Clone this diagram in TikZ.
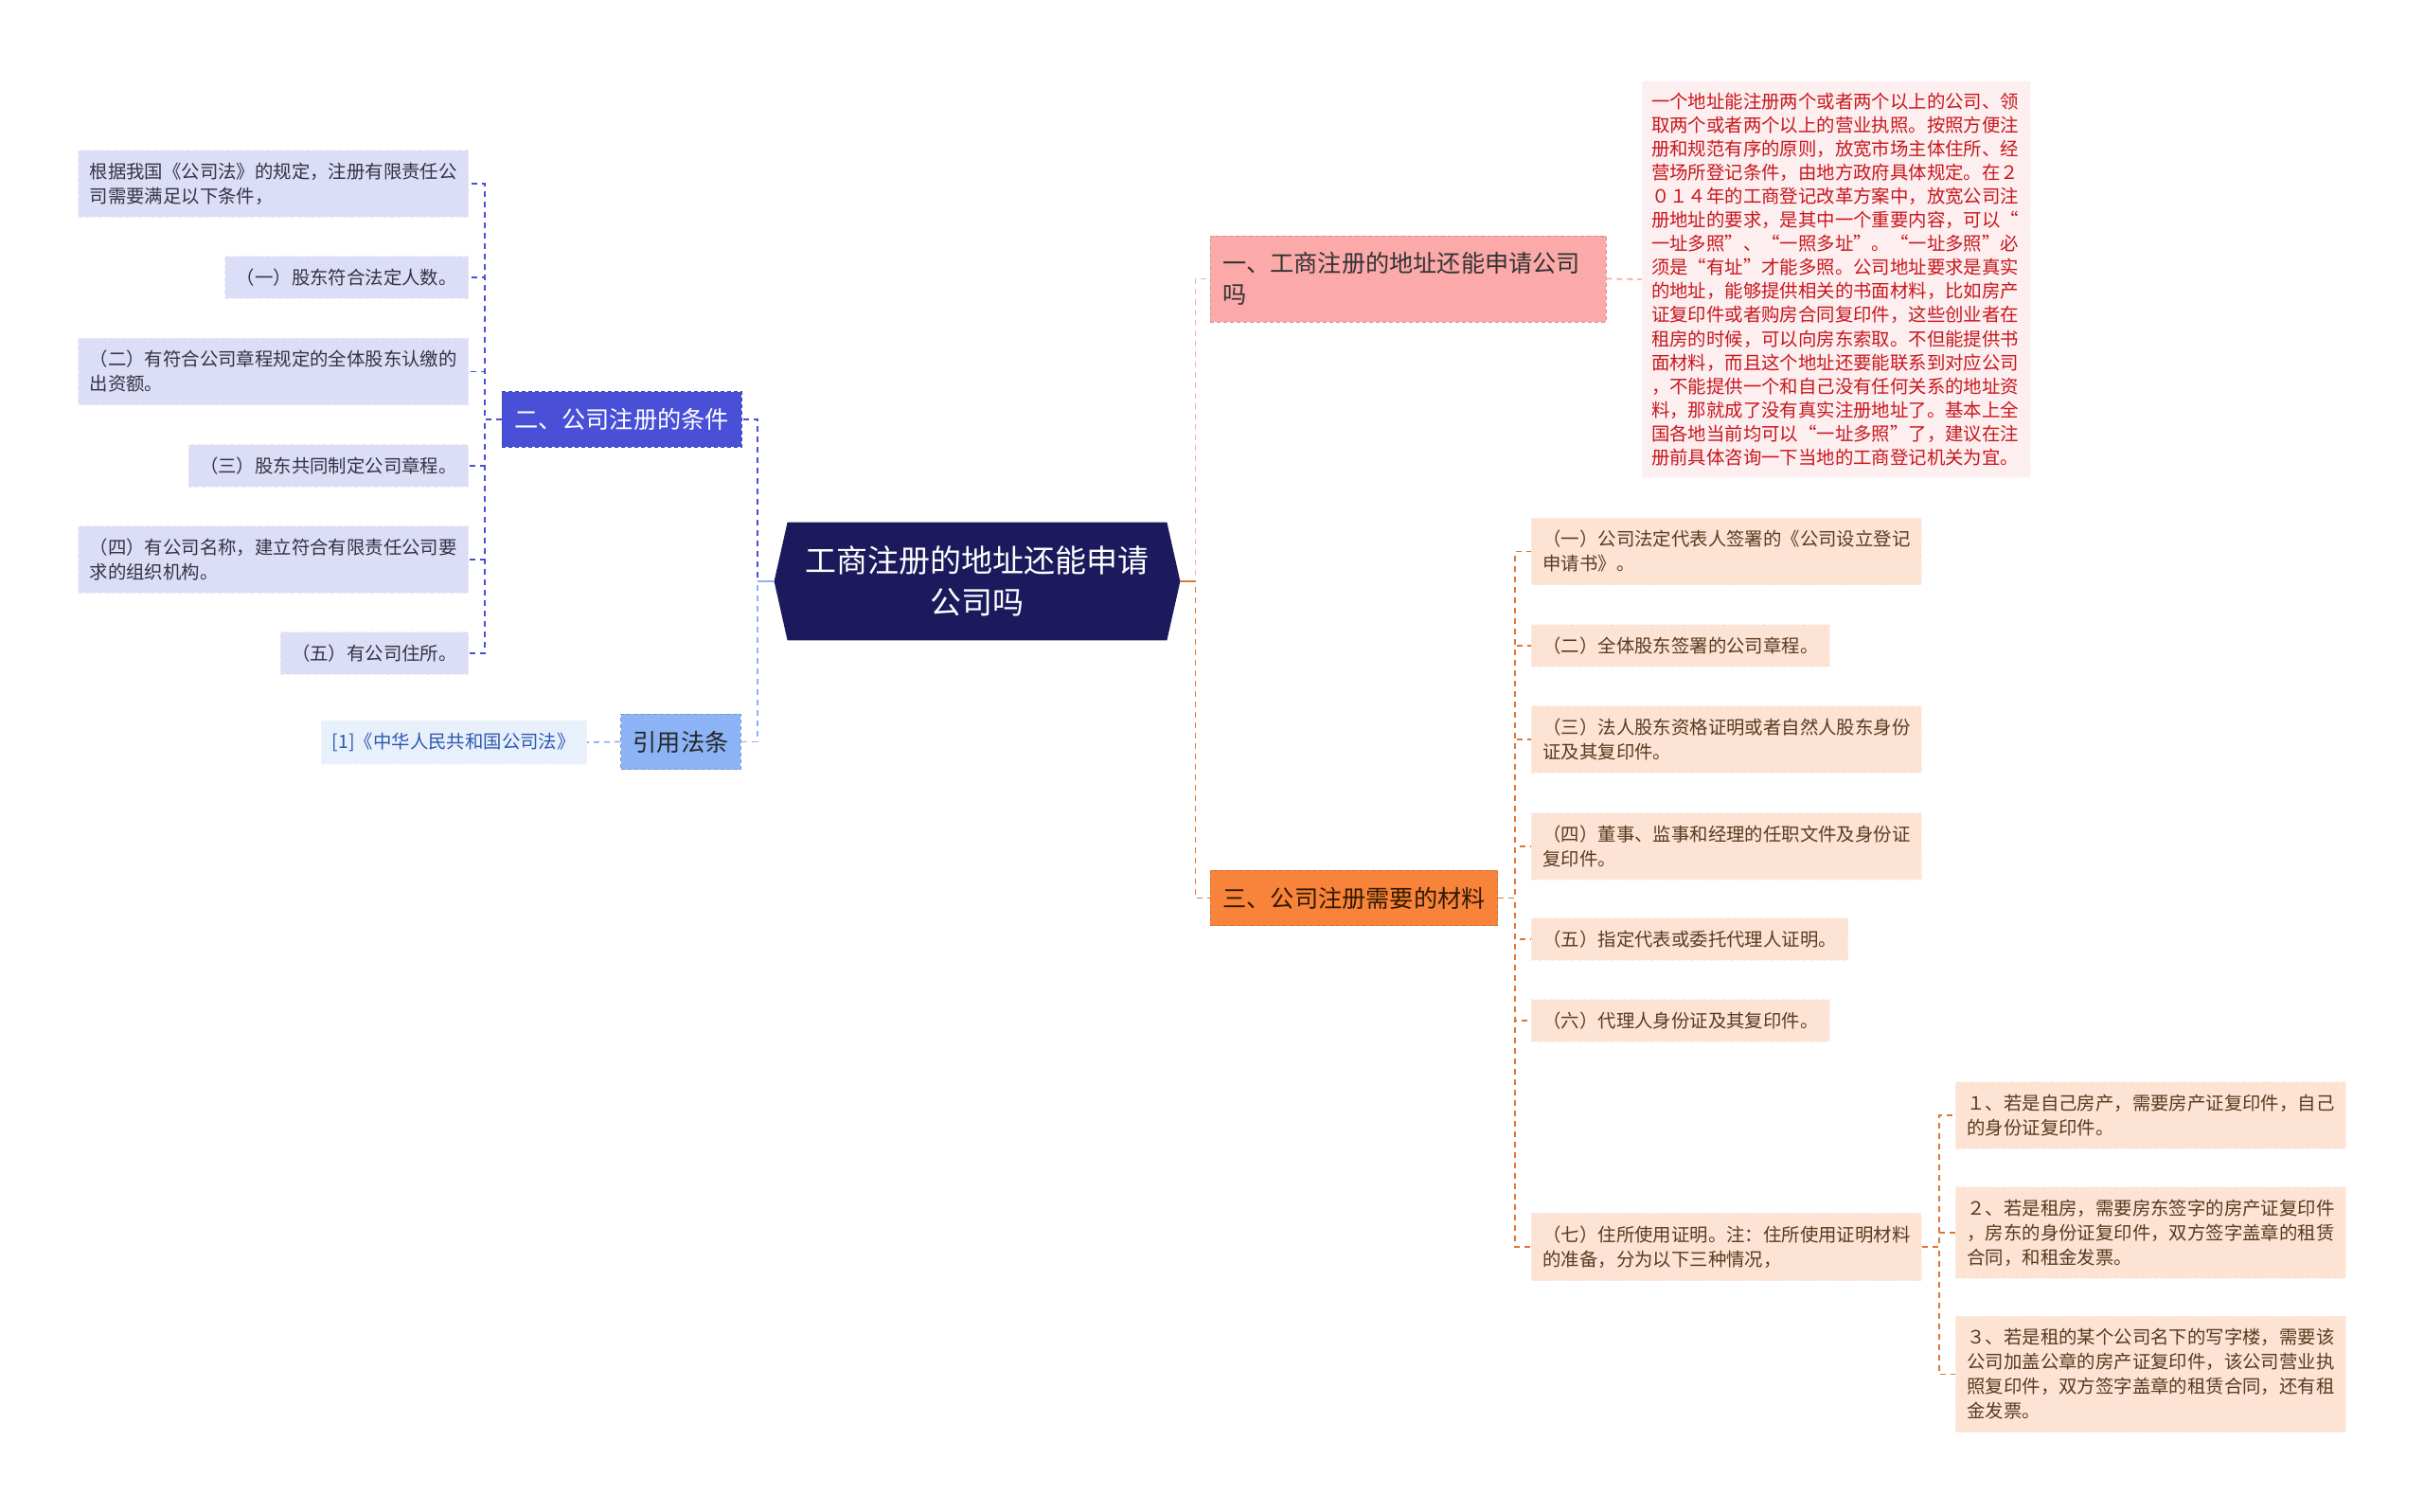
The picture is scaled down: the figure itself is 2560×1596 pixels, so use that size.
\documentclass[tikz,border=0pt]{standalone}
\usepackage{fontspec}
\newfontfamily\cjk{Noto Sans CJK SC}
\usetikzlibrary{backgrounds}

\definecolor{rootfill}{HTML}{1C1A5C}
\definecolor{pinkfill}{HTML}{FBA9A9}
\definecolor{notefill}{HTML}{FDEFEF}
\definecolor{notetext}{HTML}{C8161E}
\definecolor{bluefill}{HTML}{4A4FD8}
\definecolor{lavfill}{HTML}{DCDDF7}
\definecolor{skyfill}{HTML}{8CB3F5}
\definecolor{reffill}{HTML}{E8F0FC}
\definecolor{reftext}{HTML}{2B58B0}
\definecolor{orangefill}{HTML}{F7843A}
\definecolor{peachfill}{HTML}{FDE3D4}
\definecolor{browntext}{HTML}{5A3A20}
\definecolor{darktext}{HTML}{333344}

\tikzset{
% node styles for the mind map: root, branches and leaves
root node/.style={font=\cjk\fontsize{16.5}{22}\selectfont, text=white, align=center, minimum width=214pt, minimum height=62pt, inner sep=0pt},
branch node/.style={font=\cjk\fontsize{12.6}{16.5}\selectfont, align=left, inner xsep=6.5pt, inner ysep=8.7pt, fill=#1, draw=#1!85!black, dash pattern=on 2pt off 1.5pt},
leaf node/.style={font=\cjk\fontsize{9.7}{13}\selectfont, align=left, inner xsep=6pt, inner ysep=6.6pt, fill=#1, draw=#1!60!white, dash pattern=on 2pt off 1.5pt},
% dashed links between the boxes
link/.style={draw=#1, dash pattern=on 3pt off 2.5pt, line width=0.9pt}
}

\begin{document}
\begin{tikzpicture}[x=0.5pt, y=-0.5pt]
\useasboundingbox (0,0) rectangle (2560,1596);

% root
\node[root node] (root) at (1032,614) {工商注册的地址还能申请\\公司吗};
\begin{scope}[on background layer]
\fill[rootfill] ([xshift=7pt]root.north west) -- ([xshift=-7pt]root.north east) -- (root.east)
    -- ([xshift=-7pt]root.south east) -- ([xshift=7pt]root.south west) -- (root.west) -- cycle;
\end{scope}

% branch one and its note
\node[branch node=pinkfill, text=black!80, text width=196pt] (b1) at (1487,294.5) {一、工商注册的地址还能申请公司\\吗};
\node[leaf node=notefill, text=notetext, text width=195pt, inner xsep=5pt, inner ysep=6pt,
    font=\cjk\fontsize{9.7}{12.55}\selectfont] (note) at (1939,295) {一个地址能注册两个或者两个以上的公司、领\\
取两个或者两个以上的营业执照。按照方便注\\
册和规范有序的原则，放宽市场主体住所、经\\
营场所登记条件，由地方政府具体规定。在２\\
０１４年的工商登记改革方案中，放宽公司注\\
册地址的要求，是其中一个重要内容，可以“\\
一址多照”、“一照多址”。“一址多照”必\\
须是“有址”才能多照。公司地址要求是真实\\
的地址，能够提供相关的书面材料，比如房产\\
证复印件或者购房合同复印件，这些创业者在\\
租房的时候，可以向房东索取。不但能提供书\\
面材料，而且这个地址还要能联系到对应公司\\
，不能提供一个和自己没有任何关系的地址资\\
料，那就成了没有真实注册地址了。基本上全\\
国各地当前均可以“一址多照”了，建议在注\\
册前具体咨询一下当地的工商登记机关为宜。};

% branch two and its conditions
\node[branch node=bluefill, text=white] (b2) at (656.5,443) {二、公司注册的条件};
\node[leaf node=lavfill, text=darktext, text width=194pt, anchor=east] (l0) at (495,194) {根据我国《公司法》的规定，注册有限责任公\\司需要满足以下条件，};
\node[leaf node=lavfill, text=darktext, anchor=east] (l1) at (495,293) {（一）股东符合法定人数。};
\node[leaf node=lavfill, text=darktext, text width=194pt, anchor=east] (l2) at (495,392.5) {（二）有符合公司章程规定的全体股东认缴的\\出资额。};
\node[leaf node=lavfill, text=darktext, anchor=east] (l3) at (495,492) {（三）股东共同制定公司章程。};
\node[leaf node=lavfill, text=darktext, text width=194pt, anchor=east] (l4) at (495,591) {（四）有公司名称，建立符合有限责任公司要\\求的组织机构。};
\node[leaf node=lavfill, text=darktext, anchor=east] (l5) at (495,690) {（五）有公司住所。};

% cited law
\node[branch node=skyfill, text=black!85] (b4) at (719,783.5) {引用法条};
\node[leaf node=reffill, text=reftext, anchor=east] (ref) at (620,784) {[1]《中华人民共和国公司法》};

% branch three and its materials
\node[branch node=orangefill, text=black!80!orange] (b3) at (1430,948.5) {三、公司注册需要的材料};
\node[leaf node=peachfill, text=browntext, text width=194pt, anchor=west] (r1) at (1617,582.5) {（一）公司法定代表人签署的《公司设立登记\\申请书》。};
\node[leaf node=peachfill, text=browntext, anchor=west] (r2) at (1617,682) {（二）全体股东签署的公司章程。};
\node[leaf node=peachfill, text=browntext, text width=194pt, anchor=west] (r3) at (1617,781) {（三）法人股东资格证明或者自然人股东身份\\证及其复印件。};
\node[leaf node=peachfill, text=browntext, text width=194pt, anchor=west] (r4) at (1617,894) {（四）董事、监事和经理的任职文件及身份证\\复印件。};
\node[leaf node=peachfill, text=browntext, anchor=west] (r5) at (1617,992) {（五）指定代表或委托代理人证明。};
\node[leaf node=peachfill, text=browntext, anchor=west] (r6) at (1617,1078) {（六）代理人身份证及其复印件。};
\node[leaf node=peachfill, text=browntext, text width=194pt, anchor=west] (r7) at (1617,1317) {（七）住所使用证明。注：住所使用证明材料\\的准备，分为以下三种情况，};
\node[leaf node=peachfill, text=browntext, text width=194pt, anchor=west] (s1) at (2065,1178) {１、若是自己房产，需要房产证复印件，自己\\的身份证复印件。};
\node[leaf node=peachfill, text=browntext, text width=194pt, anchor=west] (s2) at (2065,1302) {２、若是租房，需要房东签字的房产证复印件\\，房东的身份证复印件，双方签字盖章的租赁\\合同，和租金发票。};
\node[leaf node=peachfill, text=browntext, text width=194pt, anchor=west] (s3) at (2065,1451.5) {３、若是租的某个公司名下的写字楼，需要该\\公司加盖公章的房产证复印件，该公司营业执\\照复印件，双方签字盖章的租赁合同，还有租\\金发票。};

% links
\draw[link=bluefill] (root.west) -- ++(-18,0) |- (b2.east);
\draw[link=skyfill] (root.west) -- ++(-18,0) |- (b4.east);
\draw[skyfill, line width=0.9pt] (root.west) -- ++(-18,0);
\draw[link=pinkfill] (root.east) -- ++(16,0) |- (b1.west);
\draw[link=orangefill!90!black] (root.east) -- ++(16,0) |- (b3.west);
\draw[orangefill!90!black, line width=0.9pt] (root.east) -- ++(16,0);
\draw[link=pinkfill] (b1.east) -- (note.west);
\draw[link=skyfill] (b4.west) -- (ref.east);
\foreach \n in {l0,l1,l2,l3,l4,l5}
    \draw[link=bluefill] (b2.west) -- ++(-18,0) |- (\n.east);
\foreach \n in {r1,r2,r3,r4,r5,r6,r7}
    \draw[link=orangefill!90!black] (b3.east) -- ++(18,0) |- (\n.west);
\foreach \n in {s1,s2,s3}
    \draw[link=orangefill!90!black] (r7.east) -- ++(18,0) |- (\n.west);
\end{tikzpicture}
\end{document}
